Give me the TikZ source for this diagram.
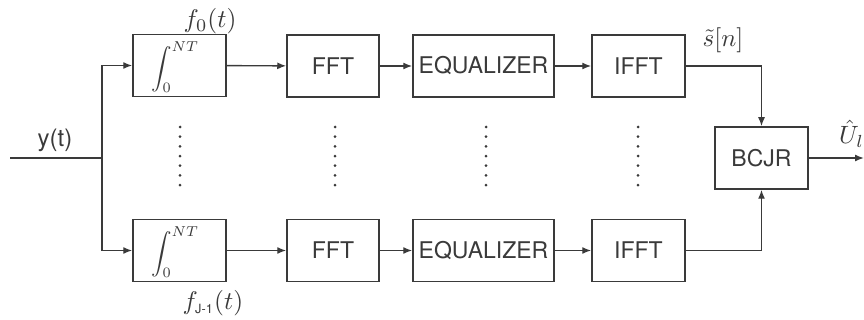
\documentclass[tikz,border=0pt]{standalone}
\usepackage{graphicx}
\usepackage{fontspec}
\setsansfont{TeX Gyre Heros}
\usetikzlibrary{arrows.meta}
\definecolor{ln}{HTML}{3A3A3A}
\begin{document}
\begin{tikzpicture}[x=1pt,y=-1pt,
  blk/.style={draw=ln,line width=1.5pt,minimum height=62pt,inner sep=0pt,font=\sffamily\fontsize{23}{23}\selectfont,text=ln},
  con/.style={draw=ln,line width=1.4pt},
  arr/.style={con,-{Latex[length=9pt,width=7pt]}},
  lbl/.style={inner sep=0pt,text=ln}]
\useasboundingbox (0,0) rectangle (864,320);
% top row
\node[blk,minimum width=93pt] (int0) at (179.5,65.5) {};
\node[lbl,anchor=west] (i0) at (151,67) {\scalebox{2.05}{$\displaystyle\int_0^{NT}$}};
\node[blk,minimum width=92pt] (fft0) at (333,66) {FFT};
\node[blk,minimum width=141pt] (eq0) at (483.5,66) {EQUALIZER};
\node[blk,minimum width=93pt] (ifft0) at (638.5,66) {IFFT};
% bottom row
\node[blk,minimum width=93pt] (int1) at (179.5,250.5) {};
\node[lbl,anchor=west] (i1) at (151,252) {\scalebox{2.05}{$\displaystyle\int_0^{NT}$}};
\node[blk,minimum width=92pt] (fft1) at (333,250.5) {FFT};
\node[blk,minimum width=141pt] (eq1) at (483.5,250.5) {EQUALIZER};
\node[blk,minimum width=93pt] (ifft1) at (638.5,250.5) {IFFT};
% BCJR
\node[blk,minimum width=93pt] (bcjr) at (761.5,158) {BCJR};
% input
\coordinate (in) at (10,158);
\coordinate (j) at (102,158);
\coordinate (out) at (864,158);
\node[lbl,font=\sffamily\fontsize{24}{24}\selectfont] (y) at (55,140) {y(t)};
\draw[con] (in) -- (j);
\draw[arr] (j) |- (int0.west);
\draw[arr] (j) |- (int1.west);
\foreach \r in {0,1}{
  \draw[arr] (int\r) -- (fft\r);
  \draw[arr] (fft\r) -- (eq\r);
  \draw[arr] (eq\r) -- (ifft\r);
}
\draw[arr] (ifft0.east) -| (bcjr.north);
\draw[arr] (ifft1.east) -| (bcjr.south);
\draw[arr] (bcjr) -- (out);
% labels
\node[lbl] (f0) at (210,21) {\scalebox{2.55}{$f_0(t)$}};
\node[lbl] (fj) at (213,303) {\scalebox{2.55}{$f_{\mbox{\sffamily\tiny J-1}}(t)$}};
\node[lbl] (s) at (723,40) {\scalebox{2.5}{$\tilde{s}[n]$}};
\node[lbl,anchor=west] (u) at (839,134) {\scalebox{2.5}{$\hat{U}_l$}};
% dots
\foreach \x in {180,335,486,638}{
  \foreach \k in {0,...,6}{
    \fill[ln] (\x,127+9.67*\k) circle (1.5pt);
  }
}
\end{tikzpicture}
\end{document}
